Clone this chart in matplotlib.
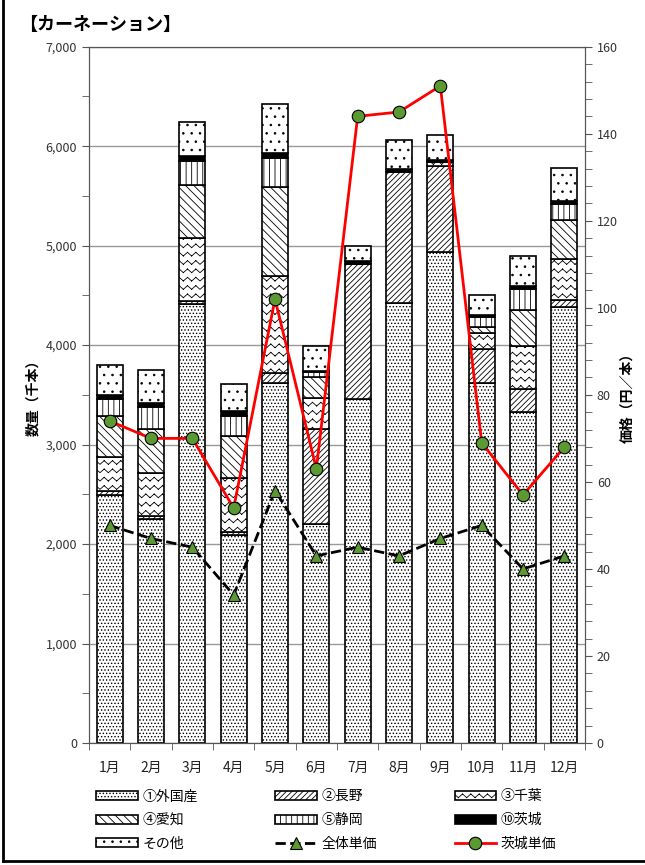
import matplotlib.pyplot as plt
import matplotlib.hatch as mhatch
import numpy as np
import warnings
from matplotlib.patches import Patch
from matplotlib.lines import Line2D
from matplotlib.path import Path

warnings.filterwarnings('ignore')
plt.rcParams['font.family'] = ['Noto Sans CJK JP', 'DejaVu Sans']
plt.rcParams['hatch.linewidth'] = 0.6


# 千葉用の波線ハッチ ('~')  線分ごとに MOVETO/LINETO
class WaveHatch(mhatch.HatchPatternBase):
    def __init__(self, hatch, density):
        self.num_rows = int(hatch.count('~') * density)
        self.num_seg = 2 * self.num_rows
        self.num_vertices = self.num_rows * self.num_seg * 2

    def set_vertices_and_codes(self, vertices, codes):
        n = self.num_seg + 1
        xs = np.linspace(0, 1, n)
        amp = 0.22 / max(self.num_rows, 1)
        offs = np.where(np.arange(n) % 2 == 0, -amp, amp)
        k = 0
        for i in range(self.num_rows):
            y = (i + 0.5) / self.num_rows
            for j in range(self.num_seg):
                vertices[k] = (xs[j], y + offs[j])
                vertices[k + 1] = (xs[j + 1], y + offs[j + 1])
                codes[k] = Path.MOVETO
                codes[k + 1] = Path.LINETO
                k += 2


mhatch._hatch_types.append(WaveHatch)

# 月別入荷量 (千本)
months = ['1月', '2月', '3月', '4月', '5月', '6月', '7月', '8月', '9月', '10月', '11月', '12月']
foreign = [2490, 2250, 4410, 2090, 3620, 2200, 3460, 4420, 4940, 3615, 3330, 4380]
nagano = [45, 30, 35, 35, 100, 960, 1355, 1325, 865, 350, 225, 70]
chiba = [345, 430, 630, 540, 980, 305, 0, 0, 35, 155, 440, 415]
aichi = [410, 445, 530, 425, 890, 210, 0, 0, 0, 65, 360, 395]
shizuoka = [165, 225, 250, 200, 290, 50, 0, 0, 0, 100, 205, 160]
ibaraki = [45, 40, 45, 50, 50, 20, 35, 30, 25, 20, 30, 30]
other = [300, 330, 340, 270, 490, 250, 150, 290, 245, 200, 310, 335]

# 単価 (円/本)
price_all = [50, 47, 45, 34, 58, 43, 45, 43, 47, 50, 40, 43]
price_ibaraki = [74, 70, 70, 54, 102, 63, 144, 145, 151, 69, 57, 68]

series = [
    ('①外国産', foreign, 'white', '.....'),
    ('②長野', nagano, 'white', '//////'),
    ('③千葉', chiba, 'white', '~~'),
    ('④愛知', aichi, 'white', '\\\\\\\\'),
    ('⑤静岡', shizuoka, 'white', '|||'),
    ('⑩茨城', ibaraki, 'black', None),
    ('その他', other, 'white', '..'),
]

fig = plt.figure(figsize=(6.45, 8.65), dpi=100)
ax = fig.add_axes([0.138, 0.141, 0.769, 0.805])
ax2 = ax.twinx()

x = np.arange(len(months))
bottom = np.zeros(len(months))
handles = {}
for name, vals, fc, hatch in series:
    vals = np.array(vals, dtype=float)
    ax.bar(x, vals, 0.63, bottom=bottom, color=fc, edgecolor='black',
           hatch=hatch, linewidth=1.2, zorder=2)
    handles[name] = Patch(facecolor=fc, edgecolor='black', hatch=hatch, linewidth=1.2)
    bottom += vals

ln_all, = ax2.plot(x, price_all, color='black', linestyle='--', linewidth=2,
                   marker='^', markersize=8, markerfacecolor='#5b9a32',
                   markeredgecolor='black', markeredgewidth=0.8, zorder=3)
ln_ib, = ax2.plot(x, price_ibaraki, color='red', linewidth=2,
                  marker='o', markersize=9, markerfacecolor='#5b9a32',
                  markeredgecolor='black', markeredgewidth=0.8, zorder=4)

ax.set_xlim(-0.5, 11.5)
ax.set_ylim(0, 7000)
ax.set_yticks(np.arange(0, 7001, 1000))
ax.set_yticks(np.arange(0, 7001, 500), minor=True)
ax.set_yticklabels([f'{v:,}' for v in range(0, 7001, 1000)])
ax.set_xticks(x)
ax.set_xticklabels(months)
ax.set_xticks(np.arange(-0.5, 12, 1), minor=True)
ax.tick_params(axis='x', which='major', length=0, pad=13, labelsize=10, colors='#222222')
ax.tick_params(axis='x', which='minor', length=5, color='#555555')
ax.tick_params(axis='y', which='both', length=5, color='#555555', labelsize=9, labelcolor='#333333')
ax.grid(axis='y', color='#999999', linewidth=1, zorder=0)
ax.set_axisbelow(True)
ax.set_ylabel('数量（千本）', fontsize=10, fontweight='bold', labelpad=4)

ax2.set_ylim(0, 160)
ax2.set_yticks(np.arange(0, 161, 20))
ax2.set_yticks(np.arange(0, 161, 4), minor=True)
ax2.tick_params(axis='y', which='both', length=5, color='#555555', labelsize=9, labelcolor='#333333')
ax2.set_ylabel('価格（円／本）', fontsize=10, fontweight='bold', rotation=90, labelpad=2)

for a in (ax, ax2):
    for s in a.spines.values():
        s.set_color('#555555')

fig.text(0.03, 0.972, '【カーネーション】', fontsize=13, fontweight='bold', va='center')

leg_handles = [handles['①外国産'], handles['④愛知'], handles['その他'],
               handles['②長野'], handles['⑤静岡'], ln_all,
               handles['③千葉'], handles['⑩茨城'], ln_ib]
leg_labels = ['①外国産', '④愛知', 'その他', '②長野', '⑤静岡', '全体単価',
              '③千葉', '⑩茨城', '茨城単価']
fig.legend(leg_handles, leg_labels, loc='upper left', bbox_to_anchor=(0.13, 0.102),
           ncol=3, frameon=False, fontsize=10, handlelength=3.0, handleheight=0.6,
           columnspacing=5.6, labelspacing=0.7, handletextpad=0.3)

# 外枠
fig.add_artist(Line2D([0.004, 0.004], [0.005, 1.0], color='black', linewidth=2, transform=fig.transFigure))
fig.add_artist(Line2D([0.004, 1.0], [0.005, 0.005], color='black', linewidth=2, transform=fig.transFigure))

fig.savefig('out.png', dpi=100)
